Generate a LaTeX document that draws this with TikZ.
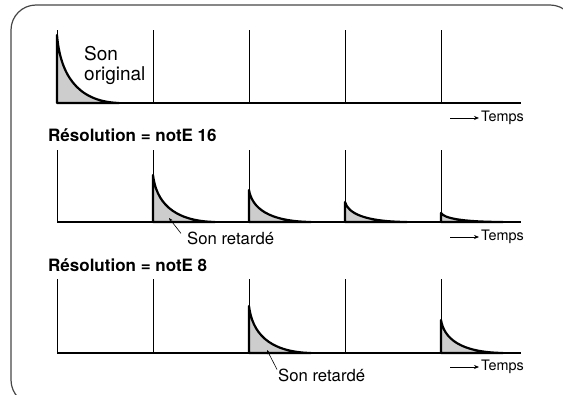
\documentclass[tikz,border=0pt]{standalone}
\usepackage{fontspec}
\setmainfont{TeX Gyre Heros}
\usepackage{xcolor}
\usepackage{tikz}
\usetikzlibrary{arrows.meta,positioning,calc}
\definecolor{pulsegrey}{RGB}{205,205,205}
\definecolor{framegrey}{RGB}{70,70,70}
\tikzset{
  axisline/.style={line width=1.1pt},
  tickline/.style={line width=0.8pt},
  pulseline/.style={line width=2.2pt, line join=round},
  tempslabel/.style={font=\fontsize{14.4}{17}\selectfont, inner sep=0pt, anchor=west},
  retardlabel/.style={font=\fontsize{16.7}{20}\selectfont, inner sep=0pt, anchor=west},
  titlelabel/.style={font=\fontsize{17}{20}\selectfont\bfseries, inner sep=0pt, anchor=west},
  tempsarrow/.style={-{Stealth[length=5pt,width=4pt]}, line width=0.7pt, shorten >=2pt},
  leader/.style={-{Stealth[length=4pt,width=3pt]}, line width=0.6pt}
}
% decaying pulse: x, baseline, height
\newcommand{\sonpulse}[3]{%
  \fill[pulsegrey] (#1,#2) -- (#1,#2-#3) .. controls (#1+3.1,#2-0.45*#3) and (#1+18.6,#2-0.02*#3) .. (#1+62,#2) -- cycle;
  \draw[pulseline] (#1+62,#2) -- (#1,#2) -- (#1,#2-#3) .. controls (#1+3.1,#2-0.45*#3) and (#1+18.6,#2-0.02*#3) .. (#1+62,#2);
}
\begin{document}
\begin{tikzpicture}[x=1pt, y=-1pt]
  \useasboundingbox (0,0) rectangle (563,395);
  % outer frame, cut by the page edge
  \begin{scope}
    \clip (0,0) rectangle (563,395);
    \draw[framegrey, line width=1.2pt, rounded corners=25pt] (11,5) rectangle (575,405);
  \end{scope}

  % time axes with grid ticks
  \foreach \base/\ytop in {103/30, 222/150, 353/279} {
    \draw[axisline] (57,\base) -- (521,\base);
    \foreach \k in {0,...,4}
      \draw[tickline] (57+96*\k,\base) -- (57+96*\k,\ytop);
  }

  % pulses
  \sonpulse{57}{103}{68}
  \sonpulse{153}{222}{47}
  \sonpulse{249}{222}{32}
  \sonpulse{345}{222}{20}
  \sonpulse{441}{222}{9}
  \sonpulse{249}{353}{47}
  \sonpulse{441}{353}{33}

  % labels
  \node[font=\fontsize{19}{20}\selectfont, align=left, inner sep=0pt, anchor=west] (orig) at (84,65) {Son\\original};
  \node[titlelabel] (res16) at (48,135) {Résolution = notE 16};
  \node[titlelabel] (res8) at (48,265) {Résolution = notE 8};
  \node[retardlabel] (ret16) at (187,238) {Son retardé};
  \node[retardlabel] (ret8) at (278,375) {Son retardé};
  \coordinate (tip16) at (169,218);
  \coordinate (tip8) at (267,350);
  \draw[leader] ([xshift=-6pt,yshift=-2pt]ret16.north west) -- (tip16);
  \draw[leader] ([xshift=-1pt,yshift=-1pt]ret8.north west) -- (tip8);

  % time arrows
  \foreach \i/\y in {1/118, 2/237, 3/367} {
    \node[tempslabel] (temps\i) at (481,\y) {Temps};
    \coordinate (tstart\i) at (450,\y);
    \draw[tempsarrow] (tstart\i) -- (temps\i.west);
  }
\end{tikzpicture}
\end{document}
